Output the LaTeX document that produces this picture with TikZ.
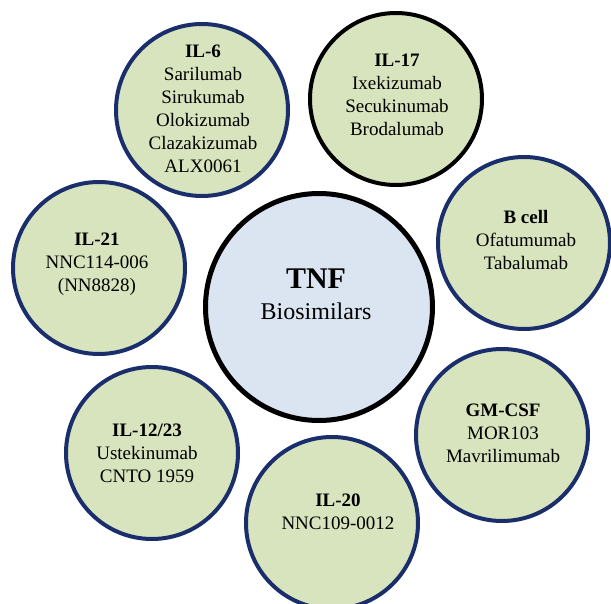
\documentclass[tikz,border=0pt]{standalone}
\usepackage{fontspec}
\setmainfont{Liberation Serif}
\definecolor{leaf}{HTML}{D7E4BD}
\definecolor{navy}{HTML}{1B2E6C}
\definecolor{tnfblue}{HTML}{DBE5F1}
\begin{document}
\begin{tikzpicture}[x=1pt,y=-1pt,
  ring/.style={circle, draw=navy, line width=4pt, fill=leaf, minimum size=172pt, inner sep=0pt},
  blackring/.style={ring, draw=black},
  hub/.style={circle, draw=black, line width=5pt, fill=tnfblue, minimum size=227pt, inner sep=0pt},
  txt/.style={align=center, inner sep=0pt, font=\fontsize{19}{23}\selectfont, text=black}]
\useasboundingbox (0,0) rectangle (611,604);
% circles
\node[ring]      (c6)   at (202,110) {};
\node[blackring] (c17)  at (396,99)  {};
\node[ring]      (cb)   at (524,243) {};
\node[ring]      (c21)  at (99,268)  {};
\node[ring]      (c1223) at (152,453) {};
\node[ring]      (cgm)  at (502,435) {};
\node[ring]      (c20)  at (332,523) {};
\node[hub]       (ctnf) at (319,307) {};
% labels
\node[txt] (t6) at (203,109) {\textbf{IL-6}\\Sarilumab\\Sirukumab\\Olokizumab\\Clazakizumab\\ALX0061};
\node[txt] (t17) at (397,95) {\textbf{IL-17}\\Ixekizumab\\Secukinumab\\Brodalumab};
\node[txt] (tb) at (526,240) {\textbf{B cell}\\Ofatumumab\\Tabalumab};
\node[txt] (t21) at (97,264) {\textbf{IL-21}\\NNC114-006\\(NN8828)};
\node[txt] (t1223) at (147,453) {\textbf{IL-12/23}\\Ustekinumab\\CNTO 1959};
\node[txt] (tgm) at (503,433) {\textbf{GM-CSF}\\MOR103\\Mavrilimumab};
\node[txt] (t20) at (338,512) {\textbf{IL-20}\\NNC109-0012};
\node[align=center, inner sep=0pt, font=\fontsize{24}{31}\selectfont] (ttnf) at (316,294)
  {{\fontsize{30}{31}\selectfont\textbf{TNF}}\\Biosimilars};
\end{tikzpicture}
\end{document}
